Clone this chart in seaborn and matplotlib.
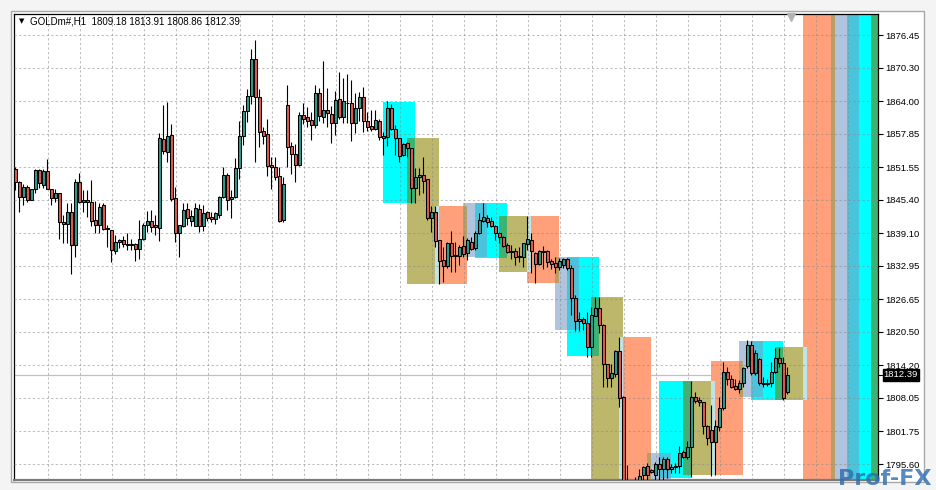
import numpy as np
import pandas as pd
import seaborn as sns
import matplotlib
matplotlib.use("Agg")
import matplotlib.pyplot as plt
from matplotlib.patches import Rectangle
import matplotlib.transforms as mtransforms

# ---------------- data ----------------
symbol = "GOLDm#,H1"
opens = [1851.20,1848.81,1845.87,1847.81,1845.30,1847.37,1850.96,1848.24,1850.82,1847.37,
         1845.68,1846.62,1841.21,1840.83,1843.10,1836.82,1848.69,1845.04,1845.36,1844.98,
         1841.53,1840.59,1844.36,1839.84,1839.65,1835.80,1837.44,1837.82,1837.01,1836.82,
         1837.12,1836.07,1838.06,1840.65,1841.40,1840.65,1840.14,1856.85,1854.46,1857.61,
         1845.68,1839.20,1840.46,1843.61,1841.40,1840.46,1843.61,1840.46,1843.04,1842.10,
         1841.83,1842.53,1845.87,1850.07,1845.49,1845.98,1851.33,1857.42,1862.13,1864.96,
         1871.87,1864.71,1858.36,1857.74,1851.95,1851.58,1849.88,1841.59,1863.26,1855.53,
         1854.03,1851.95,1861.38,1860.94,1860.43,1859.49,1865.58,1861.06,1862.32,1861.57,
         1859.93,1864.39,1861.06,1863.70,1863.70,1859.81,1862.64,1864.83,1860.30,1859.30,
         1858.68,1860.30,1857.42,1857.17,1862.64,1858.68,1856.99,1853.84,1856.04,1855.10,
         1847.68,1849.75,1850.07,1849.32,1842.02,1843.04,1837.82,1834.05,1832.98,1837.20,
         1834.99,1834.86,1836.69,1835.31,1837.50,1836.26,1839.08,1841.46,1841.91,1841.40,
         1840.46,1839.20,1838.44,1836.88,1835.75,1835.75,1834.80,1834.56,1837.01,1837.82,
         1835.43,1833.30,1835.75,1835.75,1833.86,1833.43,1832.67,1833.11,1834.24,1832.54,
         1826.95,1822.87,1822.87,1822.12,1817.60,1823.55,1824.95,1821.80,1814.39,1811.75,
         1812.57,1816.90,1808.29,1791.00,1790.20,1791.50,1792.40,1793.53,1795.23,1794.47,
         1793.53,1795.60,1794.60,1796.55,1795.10,1795.10,1795.28,1797.81,1796.98,1798.75,
         1808.17,1807.67,1807.23,1802.77,1802.01,1799.69,1802.64,1806.10,1812.89,1811.57,
         1810.30,1809.68,1810.93,1814.07,1818.03,1812.81,1815.34,1810.93,1810.68,1810.81,
         1812.89,1815.53,1814.58,1809.18]
highs = [1851.58,1848.94,1848.32,1848.18,1847.43,1851.15,1851.15,1851.15,1853.08,1847.43,
         1847.37,1846.68,1842.47,1844.85,1844.85,1849.26,1850.39,1847.30,1847.30,1849.18,
         1845.17,1844.74,1844.74,1840.59,1839.70,1838.82,1838.06,1838.57,1839.08,1837.95,
         1837.16,1841.59,1840.97,1843.34,1843.47,1842.53,1858.04,1863.26,1863.88,1859.62,
         1847.75,1840.70,1844.85,1844.74,1843.47,1844.74,1844.55,1844.42,1843.28,1843.15,
         1843.15,1846.17,1851.63,1850.39,1847.24,1853.22,1860.25,1863.26,1866.22,1873.82,
         1875.51,1866.22,1859.17,1860.62,1853.46,1853.41,1851.63,1849.75,1867.03,1856.34,
         1855.91,1862.00,1863.70,1862.83,1862.00,1867.03,1866.41,1871.55,1866.41,1863.07,
         1865.90,1869.42,1868.41,1869.10,1867.97,1865.47,1865.77,1866.60,1862.00,1862.32,
         1862.32,1860.57,1858.23,1864.07,1863.45,1859.49,1857.10,1856.04,1856.34,1855.21,
         1851.33,1851.33,1853.41,1849.40,1844.28,1844.28,1837.90,1836.56,1837.50,1839.52,
         1837.50,1836.88,1838.57,1838.14,1838.44,1839.52,1842.85,1844.74,1842.53,1842.21,
         1840.65,1839.38,1838.57,1837.31,1836.88,1836.26,1836.56,1837.25,1842.34,1839.08,
         1835.62,1835.93,1836.69,1835.93,1834.18,1834.67,1834.37,1834.48,1834.48,1833.11,
         1827.45,1824.31,1823.31,1824.31,1825.19,1827.08,1827.08,1821.90,1814.45,1814.45,
         1817.09,1819.48,1808.42,1795.40,1792.60,1793.20,1794.60,1795.23,1795.85,1794.60,
         1796.04,1796.98,1796.98,1796.98,1795.60,1795.74,1799.05,1798.24,1800.00,1811.25,
         1809.23,1808.17,1807.35,1802.96,1806.72,1803.90,1808.29,1814.88,1813.83,1812.38,
         1811.57,1811.44,1813.94,1818.97,1818.84,1817.09,1815.53,1812.06,1811.57,1814.88,
         1817.41,1817.41,1815.83,1813.91]
lows = [1847.30,1843.04,1844.36,1845.04,1845.27,1846.73,1847.56,1847.62,1847.37,1844.36,
        1844.92,1838.06,1837.31,1837.31,1831.36,1834.67,1844.74,1843.04,1842.21,1840.46,
        1839.08,1839.08,1839.70,1836.56,1833.73,1835.18,1836.26,1836.56,1835.93,1835.93,
        1833.92,1834.24,1837.76,1839.38,1839.38,1838.76,1837.63,1854.03,1852.58,1845.23,
        1837.50,1834.67,1840.21,1840.65,1840.46,1840.46,1839.38,1839.52,1841.40,1841.27,
        1840.78,1841.91,1845.68,1843.47,1842.02,1845.79,1849.26,1855.72,1860.11,1863.39,
        1852.58,1855.40,1855.86,1849.94,1847.43,1849.13,1841.27,1841.16,1851.52,1850.26,
        1848.81,1851.80,1859.68,1859.17,1856.67,1858.87,1860.30,1859.93,1859.17,1856.16,
        1857.61,1860.62,1859.81,1859.81,1856.53,1857.93,1860.30,1858.12,1858.36,1858.42,
        1858.55,1856.67,1853.84,1855.53,1858.55,1853.84,1852.58,1853.65,1853.52,1844.74,
        1844.85,1846.30,1846.62,1841.59,1839.27,1836.56,1829.53,1829.96,1832.49,1831.85,
        1831.73,1833.11,1834.67,1834.05,1835.93,1835.93,1838.95,1841.27,1840.33,1840.21,
        1837.82,1837.31,1836.56,1835.31,1834.24,1833.11,1833.73,1832.79,1835.93,1831.54,
        1829.66,1833.11,1832.35,1832.79,1832.30,1831.54,1832.17,1832.49,1832.17,1823.69,
        1820.73,1820.73,1820.86,1815.83,1815.83,1823.50,1820.29,1810.17,1810.17,1810.17,
        1812.00,1806.40,1789.50,1788.50,1789.20,1790.60,1791.20,1792.00,1792.00,1793.85,
        1792.59,1792.59,1792.59,1792.91,1793.85,1793.85,1793.85,1796.68,1796.55,1793.21,
        1807.04,1806.54,1801.26,1799.19,1793.40,1793.53,1801.88,1805.78,1810.49,1809.87,
        1809.55,1808.93,1810.17,1813.70,1812.38,1812.38,1810.49,1810.17,1810.30,1810.17,
        1812.70,1813.94,1807.67,1808.86]
closes = [1848.69,1845.98,1847.81,1845.36,1847.37,1850.96,1848.51,1850.82,1847.37,1845.79,
          1846.62,1841.16,1840.83,1843.10,1836.82,1848.69,1845.04,1845.36,1844.92,1841.46,
          1840.65,1843.98,1839.84,1840.08,1835.93,1837.44,1837.82,1837.01,1836.82,1837.12,
          1836.07,1838.01,1840.70,1841.40,1840.33,1840.21,1856.99,1854.65,1857.42,1845.55,
          1839.20,1840.65,1843.47,1841.91,1842.34,1843.79,1840.46,1842.85,1842.02,1841.83,
          1842.85,1845.87,1850.07,1845.36,1845.87,1851.33,1857.42,1862.13,1864.96,1871.87,
          1864.83,1858.23,1857.48,1851.82,1851.63,1849.75,1841.46,1848.37,1855.40,1854.03,
          1851.95,1861.38,1860.62,1860.25,1859.49,1865.58,1861.19,1862.32,1861.70,1859.93,
          1864.20,1860.94,1864.02,1863.58,1859.81,1862.64,1864.83,1860.30,1859.17,1858.68,
          1860.43,1857.29,1856.99,1862.64,1858.68,1856.99,1853.71,1855.91,1855.10,1847.56,
          1849.75,1850.07,1849.00,1842.02,1843.04,1837.69,1833.92,1832.98,1837.20,1834.86,
          1834.86,1836.56,1835.18,1837.82,1836.12,1839.08,1841.53,1842.21,1841.27,1840.46,
          1839.08,1838.44,1836.69,1835.62,1835.50,1834.56,1834.56,1837.20,1837.95,1835.80,
          1833.30,1835.75,1835.50,1833.73,1833.30,1832.79,1833.92,1834.24,1832.60,1826.83,
          1822.61,1822.61,1822.12,1817.60,1823.69,1824.95,1821.80,1814.39,1811.75,1812.81,
          1816.90,1808.10,1791.00,1790.20,1791.50,1792.40,1793.30,1795.10,1793.53,1794.15,
          1795.60,1794.60,1796.55,1794.60,1794.60,1795.28,1797.62,1796.98,1798.75,1808.17,
          1807.53,1807.23,1802.77,1800.45,1799.69,1802.77,1806.10,1812.89,1811.57,1810.17,
          1809.80,1810.93,1813.75,1818.03,1812.70,1816.47,1810.81,1810.68,1810.81,1813.00,
          1815.53,1814.70,1808.05,1812.39]

# session boxes (bar index range and price range)
box_kind  = ["cyan","olive","salmon","steel","cyan","olive","salmon","steel","cyan","olive","salmon",
             "steel","cyan","olive","salmon","steel","cyan","olive","salmon","steel","cyan","olive"]
box_start = [91.85,97.85,104.93,112.00,114.93,120.93,127.85,134.93,137.85,143.93,151.00,
             157.85,160.93,167.00,173.93,180.93,183.93,189.93,196.85,203.93,207.99,213.93]
box_end   = [99.93,105.93,112.85,117.85,122.85,128.85,135.93,140.93,145.93,152.00,158.93,
             163.93,168.93,174.93,181.85,186.85,192.00,197.85,204.93,210.93,216.10,222.00]
box_low   = [1844.85,1829.53,1829.53,1834.67,1834.48,1831.85,1829.77,1820.86,1815.96,1789.00,1788.50,
             1789.00,1792.97,1793.53,1793.53,1808.29,1807.67,1807.67,1700.0,1700.0,1700.0,1700.0]
box_high  = [1863.88,1857.04,1844.28,1844.74,1844.74,1842.34,1842.34,1834.67,1834.67,1827.13,1819.48,
             1797.73,1811.30,1811.30,1815.07,1818.79,1818.79,1817.71,1950.0,1950.0,1950.0,1950.0]

price_ticks = [1876.45,1870.30,1864.00,1857.85,1851.55,1845.40,1839.10,
               1832.95,1826.65,1820.50,1814.20,1808.05,1801.75,1795.60]

# ---------------- style ----------------
sns.set_theme(style="white")
plt.rcParams["font.family"] = ["Liberation Sans", "DejaVu Sans"]

box_colors = {"cyan": "#00FFFF", "olive": "#BDB76B", "salmon": "#FFA07A", "steel": "#B0C4DE"}
mix_colors = {frozenset(["cyan", "olive"]): "#3CB371",
              frozenset(["cyan", "steel"]): "#4AC4DC",
              frozenset(["olive", "salmon"]): "#BEE4E8",
              frozenset(["salmon", "steel"]): "#B89E66"}
BULL, BEAR = "#2E9C8C", "#DB5A50"

W, H = 937, 490
fig = plt.figure(figsize=(W / 100, H / 100), dpi=100)
fig.patch.set_facecolor("#F4F4F4")
# outer chart window frame
fig.add_artist(Rectangle((11 / W, 1 - 482 / H), (924 - 11) / W, (482 - 11) / H,
                         transform=fig.transFigure, facecolor="white",
                         edgecolor="#A8A8A8", lw=1.0, zorder=0))

ax = fig.add_axes([14 / W, 1 - 480 / H, (877.7 - 14) / W, (480 - 14) / H])
ax.set_facecolor("white")

df = pd.DataFrame({"open": opens, "high": highs, "low": lows, "close": closes})
df["bar"] = np.arange(len(df))
df["bull"] = df["close"] >= df["open"]

# current price line (behind boxes)
last = df["close"].iloc[-1]
ax.axhline(last, color="#C0C0C0", lw=0.9, zorder=0.8)

# boxes
boxes = pd.DataFrame({"kind": box_kind, "x0": box_start, "x1": box_end,
                      "lo": box_low, "hi": box_high})
for _, b in boxes.iterrows():
    ax.add_patch(Rectangle((b.x0, b.lo), b.x1 - b.x0, b.hi - b.lo,
                           facecolor=box_colors[b.kind], edgecolor="none", zorder=1))
for i in range(len(boxes)):
    for j in range(i + 1, len(boxes)):
        a, c = boxes.iloc[i], boxes.iloc[j]
        x0, x1 = max(a.x0, c.x0), min(a.x1, c.x1)
        y0, y1 = max(a.lo, c.lo), min(a.hi, c.hi)
        if x1 > x0 and y1 > y0 and a.kind != c.kind:
            ax.add_patch(Rectangle((x0, y0), x1 - x0, y1 - y0,
                                   facecolor=mix_colors[frozenset([a.kind, c.kind])],
                                   edgecolor="none", zorder=1.2))

# candles
ax.vlines(df["bar"], df["low"], df["high"], color="black", lw=0.8, zorder=4)
body_lo = np.minimum(df["open"], df["close"])
body_h = np.maximum((df["close"] - df["open"]).abs(), 0.12)
ax.bar(df["bar"], body_h, bottom=body_lo, width=0.72,
       color=np.where(df["bull"], BULL, BEAR), edgecolor="black", lw=0.75, zorder=5)

# axes limits / grid
ax.set_xlim(-0.325, 215.6)
ax.set_ylim(1792.59, 1880.41)
ax.set_xticks(np.arange(8, 216, 8) + 0.1)
ax.set_xticklabels([])
ax.tick_params(axis="x", length=0)
ax.yaxis.tick_right()
ax.set_yticks(price_ticks)
ax.set_yticklabels([f"{t:.2f}" for t in price_ticks])
ax.tick_params(axis="y", direction="out", length=3.5, width=0.8, color="black",
               labelsize=6.8, pad=2, labelcolor="black", right=True, left=False)
ax.set_axisbelow(False)
ax.grid(True, color="#8A8A8A", alpha=0.55, lw=0.75, linestyle=(0, (2.2, 2.2)))
for s in ["left", "top", "right"]:
    ax.spines[s].set_color("black")
    ax.spines[s].set_linewidth(0.9)
ax.spines["bottom"].set_color("#7A7A7A")
ax.spines["bottom"].set_linewidth(1.6)

# current price label
trans = mtransforms.blended_transform_factory(ax.transAxes, ax.transData)
ax.text(1.0 + 6 / 863.7, last, f"{last:.2f}", transform=trans, ha="left", va="center",
        color="white", fontsize=6.8, zorder=10, clip_on=False,
        bbox=dict(boxstyle="square,pad=0.12", fc="black", ec="black"))
ax.plot([1.0, 1.0 + 4 / 863.7], [last, last], transform=trans, color="black",
        lw=0.8, clip_on=False, zorder=10)

# chart shift marker
trans2 = mtransforms.blended_transform_factory(ax.transData, ax.transAxes)
ax.plot([193.9], [0.993], marker="v", markersize=6, color="#B4B4B4",
        transform=trans2, clip_on=False, zorder=10)

# header
fig.text(30 / W, 1 - 21.5 / H,
         f"{symbol}  {opens[-1]:.2f} {highs[-1]:.2f} {lows[-1]:.2f} {closes[-1]:.2f}",
         fontsize=7, color="black", va="center", ha="left", zorder=20)
fig.text(22 / W, 1 - 21.5 / H, "\u25BC", fontsize=5, color="black", va="center",
         ha="center", family=["DejaVu Sans"], zorder=20)

# watermark
fig.text(838 / W, 1 - 485 / H, "Prof-FX", fontsize=16, fontweight="bold", color="#2B6CB0",
         alpha=0.8, family=["DejaVu Sans"], va="baseline", ha="left", zorder=20)

fig.savefig("out.png", dpi=100, facecolor=fig.get_facecolor())
